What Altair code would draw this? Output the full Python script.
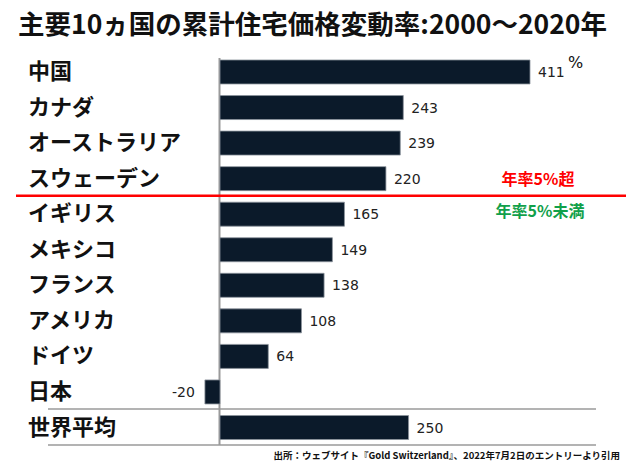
import altair as alt
import pandas as pd

countries = ["中国", "カナダ", "オーストラリア", "スウェーデン", "イギリス", "メキシコ",
             "フランス", "アメリカ", "ドイツ", "日本", "世界平均"]
values = [411, 243, 239, 220, 165, 149, 138, 108, 64, -20, 250]

title_text = "主要10ヵ国の累計住宅価格変動率:2000～2020年"
above_text = "年率5%超"
below_text = "年率5%未満"
unit_text = "%"
source_text = "出所：ウェブサイト『Gold Switzerland』、2022年7月2日のエントリーより引用"

df = pd.DataFrame({"country": countries, "value": values,
                   "label": [str(v) for v in values]})

FONT = "Noto Sans CJK JP"
NUMFONT = "DejaVu Sans"

xs = alt.Scale(domain=[0, 411], range=[212, 522], nice=False, zero=False)
ys = alt.Scale(domain=countries, range=[46.2, 437.3], paddingInner=0.325, paddingOuter=0.1625)

base = alt.Chart(df)

bars = base.mark_bar(color="#0b1a2a", stroke="#8c939c", strokeWidth=0.8).encode(
    x=alt.X("value:Q", scale=xs, axis=None),
    x2=alt.datum(0),
    y=alt.Y("country:N", scale=ys, axis=None, sort=countries),
)

pos_labels = base.transform_filter("datum.value >= 0").mark_text(
    align="left", baseline="middle", dx=8, dy=1, font=NUMFONT, fontSize=14, color="#222222"
).encode(
    x=alt.X("value:Q", scale=xs),
    y=alt.Y("country:N", scale=ys, sort=countries),
    text="label:N",
)

neg_labels = base.transform_filter("datum.value < 0").mark_text(
    align="right", baseline="middle", dx=-10, dy=1, font=NUMFONT, fontSize=14, color="#222222"
).encode(
    x=alt.X("value:Q", scale=xs),
    y=alt.Y("country:N", scale=ys, sort=countries),
    text="label:N",
)

cat_labels = base.mark_text(
    align="left", baseline="middle", font=FONT, fontSize=22, fontWeight="bold", color="#111111"
).encode(
    x=alt.value(20),
    y=alt.Y("country:N", scale=ys, sort=countries),
    text="country:N",
)

def note(text, x, y, size, color="#111111", align="left", weight="bold", font=FONT,
         baseline="middle"):
    return alt.Chart(pd.DataFrame({"t": [text]})).mark_text(
        align=align, baseline=baseline, font=font, fontSize=size, fontWeight=weight, color=color
    ).encode(x=alt.value(x), y=alt.value(y), text="t:N")

def rule(x1, x2, y, color, width):
    return alt.Chart(pd.DataFrame({"k": [0]})).mark_rule(color=color, strokeWidth=width).encode(
        x=alt.value(x1), x2=alt.value(x2), y=alt.value(y)
    )

axis_line = alt.Chart(pd.DataFrame({"k": [0]})).mark_rule(color="#9a9a9a", strokeWidth=2).encode(
    x=alt.value(211.5), y=alt.value(50), y2=alt.value(437)
)

chart = alt.layer(
    axis_line,
    rule(40, 588, 401, "#9a9a9a", 1.5),
    rule(40, 588, 437, "#9a9a9a", 1.5),
    bars,
    pos_labels,
    neg_labels,
    cat_labels,
    rule(8, 618, 187.7, "#ff0000", 2.5),
    note(title_text, 10, 25.5, 26.5, baseline="alphabetic"),
    note(above_text, 530, 172, 16, color="#ff0000", align="center"),
    note(below_text, 532, 204, 16, color="#11a04a", align="center"),
    note(unit_text, 560, 55, 16, color="#111111", weight="normal", font=NUMFONT),
    note(source_text, 612, 448, 9.5, align="right"),
).properties(
    width=624, height=454,
    autosize=alt.AutoSizeParams(type="none"),
    padding=0,
).configure_view(stroke=None)

chart.save("out.html", embed_options={"renderer": "svg", "actions": False})
